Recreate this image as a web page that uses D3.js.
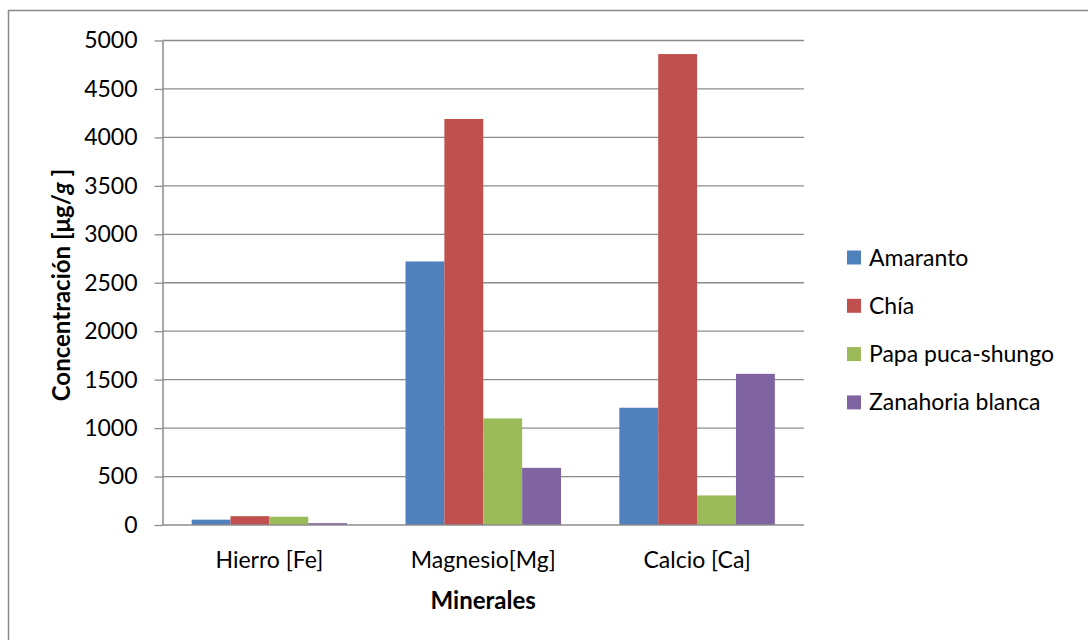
<!DOCTYPE html>
<html><head><meta charset="utf-8">
<script src="https://cdn.jsdelivr.net/npm/d3@7"></script>
<style>body{margin:0;background:#fff;} svg{display:block;font-family:Lato, "Open Sans", sans-serif;}</style>
</head><body>
<svg id="c" width="1088" height="640"></svg>
<script>
const categories = ["Hierro [Fe]", "Magnesio[Mg]", "Calcio [Ca]"];
const seriesNames = ["Amaranto", "Chía", "Papa puca-shungo", "Zanahoria blanca"];
const amaranto = [55, 2720, 1210];
const chia = [91, 4190, 4860];
const papa = [85, 1100, 305];
const zanahoria = [19, 590, 1560];
const colors = ["#4F81BD", "#C0504D", "#9BBB59", "#8064A2"];
const yTicks = [0, 500, 1000, 1500, 2000, 2500, 3000, 3500, 4000, 4500, 5000];

(function () {
const seriesValues = [amaranto, chia, papa, zanahoria];
const svg = d3.select("#c");
const pLeft = 162.5, pRight = 804, pTop = 40.5, pBottom = 525;
const FS = 23;

svg.append("rect").attr("x", 8.5).attr("y", 10.5).attr("width", 1200).attr("height", 800)
  .attr("fill", "#fff").attr("stroke", "#888").attr("stroke-width", 1.5);

const y = d3.scaleLinear().domain([0, 5000]).range([pBottom, pTop]);
const x0 = d3.scaleBand().domain(categories).range([pLeft, pRight]).padding(0);
const x1 = d3.scaleBand().domain(seriesNames).range([0, x0.bandwidth()]).paddingInner(0).paddingOuter(0.75);

svg.append("g").selectAll("line").data(yTicks.filter(t => t > 0)).join("line")
  .attr("x1", pLeft).attr("x2", pRight)
  .attr("y1", d => y(d)).attr("y2", d => y(d))
  .attr("stroke", "#8c8c8c").attr("stroke-width", 1.3);

const groups = svg.append("g").selectAll("g").data(categories).join("g")
  .attr("transform", d => `translate(${x0(d)},0)`);
groups.selectAll("rect").data((c, ci) => seriesNames.map((s, si) => ({s, si, v: seriesValues[si][ci]})))
  .join("rect")
  .attr("x", d => x1(d.s)).attr("width", x1.bandwidth())
  .attr("y", d => y(d.v)).attr("height", d => pBottom - y(d.v))
  .attr("fill", d => colors[d.si]);

const yAxis = d3.axisLeft(y).tickValues(yTicks).tickFormat(d3.format("d")).tickSize(8).tickSizeOuter(0).tickPadding(17);
const ya = svg.append("g").attr("transform", `translate(${pLeft},0)`).call(yAxis);
ya.select(".domain").attr("stroke", "#8c8c8c").attr("stroke-width", 1.5);
ya.selectAll(".tick line").attr("stroke", "#8c8c8c").attr("stroke-width", 1.3);
ya.selectAll(".tick text").attr("font-size", FS).attr("fill", "#000").attr("font-family", "Lato, sans-serif");

const xAxis = d3.axisBottom(x0).tickSize(0).tickPadding(18);
const xa = svg.append("g").attr("transform", `translate(0,${pBottom})`).call(xAxis);
xa.select(".domain").attr("stroke", "#8c8c8c").attr("stroke-width", 1.5).attr("d", `M${pLeft},0H${pRight}`);
xa.selectAll(".tick text").attr("font-size", FS).attr("fill", "#000").attr("font-family", "Lato, sans-serif")
  .attr("dy", null).attr("y", 43);

svg.append("text").attr("x", (pLeft + pRight) / 2).attr("y", 609).attr("text-anchor", "middle")
  .attr("font-size", 24).attr("font-weight", "bold").text("Minerales");
const yt = svg.append("text").attr("transform", "translate(70,285) rotate(-90)")
  .attr("text-anchor", "middle").attr("font-size", 24).attr("font-weight", "bold");
yt.append("tspan").text("Concentración [μg/");
yt.append("tspan").attr("font-style", "italic").text("g");
yt.append("tspan").text(" ]");

const leg = svg.append("g").selectAll("g").data(seriesNames).join("g")
  .attr("transform", (d, i) => `translate(847,${257.5 + i * 48.3})`);
leg.append("rect").attr("x", 0).attr("y", -7).attr("width", 14).attr("height", 14)
  .attr("fill", (d, i) => colors[i]);
leg.append("text").attr("x", 22).attr("y", 0).attr("dy", "0.35em")
  .attr("font-size", FS).attr("fill", "#000").text(d => d);
})();
</script>
</body></html>
